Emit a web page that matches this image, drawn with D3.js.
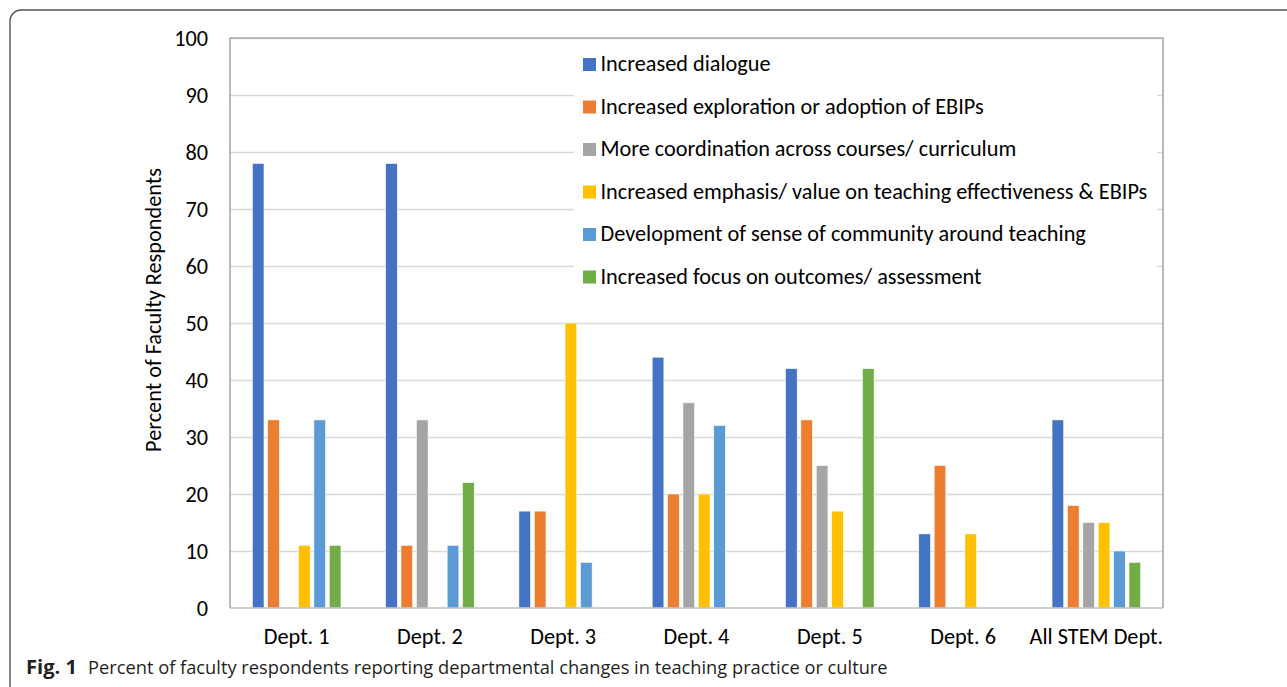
<!DOCTYPE html>
<html>
<head>
<meta charset="utf-8">
<script src="https://cdn.jsdelivr.net/npm/d3@7/dist/d3.min.js"></script>
<style>
  html, body { margin: 0; padding: 0; background: #fff; }
  svg { display: block; }
</style>
</head>
<body>
<svg id="chart" width="1287" height="687"></svg>
<script>
// Departments along the x axis
const categories = ["Dept. 1", "Dept. 2", "Dept. 3", "Dept. 4", "Dept. 5", "Dept. 6", "All STEM Dept."];

// Reported changes (one series per kind of change), percent of respondents
const seriesNames = [
  "Increased dialogue",
  "Increased exploration or adoption of EBIPs",
  "More coordination across courses/ curriculum",
  "Increased emphasis/ value on teaching effectiveness & EBIPs",
  "Development of sense of community around teaching",
  "Increased focus on outcomes/ assessment"
];
const dialogue      = [78, 78, 17, 44, 42, 13, 33];
const exploration   = [33, 11, 17, 20, 33, 25, 18];
const coordination  = [0, 33, 0, 36, 25, 0, 15];
const emphasis      = [11, 0, 50, 20, 17, 13, 15];
const community     = [33, 11, 8, 32, 0, 0, 10];
const outcomes      = [11, 22, 0, 0, 42, 0, 8];
const seriesValues  = [dialogue, exploration, coordination, emphasis, community, outcomes];
const seriesColors  = ["#4472C4", "#ED7D31", "#A5A5A5", "#FFC000", "#5B9BD5", "#70AD47"];

const yTicks = [0, 10, 20, 30, 40, 50, 60, 70, 80, 90, 100];

const svg = d3.select("#chart");
const plot = { left: 230, right: 1163, top: 38, bottom: 608 };
const bodyFont = "Carlito, Lato, 'Liberation Sans', sans-serif";
const captionFont = "'Open Sans', 'Noto Sans', sans-serif";

// size a font so that a reference string spans a given width
function fitSize(text, family, weight, target, base) {
  const t = svg.append("text").attr("font-family", family).attr("font-weight", weight)
    .attr("font-size", base).text(text);
  const w = t.node().getComputedTextLength();
  t.remove();
  return base * target / w;
}
const fs = fitSize(seriesNames[3], bodyFont, "normal", 547, 20);
const capFs = fitSize("Percent of faculty respondents reporting departmental changes in teaching practice or culture", captionFont, "normal", 800, 20);
const figFs = fitSize("Fig. 1", captionFont, "bold", 51, 20);

// outer frame
svg.append("rect")
  .attr("x", 10).attr("y", 10).attr("width", 1320).attr("height", 720).attr("rx", 11)
  .attr("fill", "none").attr("stroke", "#555").attr("stroke-width", 1.4);

const y = d3.scaleLinear().domain([0, 100]).range([plot.bottom, plot.top]);
const x0 = d3.scaleBand().domain(categories).range([plot.left, plot.right])
  .paddingInner(0.335).paddingOuter(0.1675);
const x1 = d3.scaleBand().domain(d3.range(seriesNames.length)).range([0, x0.bandwidth()])
  .paddingInner(0.24);

// gridlines
svg.append("g")
  .attr("transform", `translate(${plot.left},0)`)
  .call(d3.axisLeft(y).tickValues(yTicks.slice(1)).tickSize(-(plot.right - plot.left)).tickFormat(""))
  .call(g => g.select(".domain").remove())
  .call(g => g.selectAll(".tick line").attr("stroke", "#d9d9d9").attr("stroke-width", 1.4));

// bars
const groups = svg.append("g").selectAll("g").data(categories).join("g")
  .attr("transform", d => `translate(${x0(d)},0)`);
groups.selectAll("rect")
  .data((d, ci) => seriesValues.map((vals, si) => ({ si, v: vals[ci] })).filter(o => o.v > 0))
  .join("rect")
  .attr("x", d => x1(d.si))
  .attr("width", x1.bandwidth())
  .attr("y", d => y(d.v))
  .attr("height", d => y(0) - y(d.v))
  .attr("fill", d => seriesColors[d.si])
  .attr("stroke", "#fff").attr("stroke-width", 0.6);

// plot area outline
svg.append("path")
  .attr("d", `M${plot.left},${plot.bottom} V${plot.top} H${plot.right} V${plot.bottom}`)
  .attr("fill", "none").attr("stroke", "#8c8c8c").attr("stroke-width", 1.2);
svg.append("line")
  .attr("x1", plot.left).attr("x2", plot.right).attr("y1", plot.bottom).attr("y2", plot.bottom)
  .attr("stroke", "#bfbfbf").attr("stroke-width", 1.4);

// y axis labels
const yAxis = svg.append("g")
  .attr("transform", `translate(${plot.left},0)`)
  .call(d3.axisLeft(y).tickValues(yTicks).tickSize(0).tickPadding(22));
yAxis.select(".domain").remove();
yAxis.selectAll("text").attr("font-family", bodyFont).attr("font-size", fs).attr("fill", "#000");

// x axis labels
const xAxis = svg.append("g")
  .attr("transform", `translate(0,${plot.bottom})`)
  .call(d3.axisBottom(x0).tickSize(0).tickPadding(20));
xAxis.select(".domain").remove();
xAxis.selectAll("text").attr("font-family", bodyFont).attr("font-size", fs).attr("fill", "#000");

// y axis title
svg.append("text")
  .attr("transform", `translate(161,310) rotate(-90)`)
  .attr("text-anchor", "middle")
  .attr("font-family", bodyFont).attr("font-size", fs).attr("fill", "#000")
  .text("Percent of Faculty Respondents");

// legend
const legend = svg.append("g");
legend.append("rect")
  .attr("x", 574).attr("y", 45).attr("width", 583).attr("height", 252).attr("fill", "#fff");
const legendRows = legend.selectAll("g.item").data(seriesNames).join("g").attr("class", "item")
  .attr("transform", (d, i) => `translate(583,${71 + i * 42.5})`);
legendRows.append("rect")
  .attr("x", 0).attr("y", -13).attr("width", 13).attr("height", 13)
  .attr("fill", (d, i) => seriesColors[i]);
legendRows.append("text")
  .attr("x", 17.5).attr("y", 0)
  .attr("font-family", bodyFont).attr("font-size", fs).attr("fill", "#000")
  .text(d => d);

// figure caption
const cap = svg.append("text").attr("x", 26).attr("y", 674)
  .attr("font-family", captionFont).attr("fill", "#231f20");
cap.append("tspan").attr("font-weight", "bold").attr("font-size", figFs).text("Fig. 1");
cap.append("tspan").attr("x", 88).attr("font-size", capFs)
  .text("Percent of faculty respondents reporting departmental changes in teaching practice or culture");
</script>
</body>
</html>
